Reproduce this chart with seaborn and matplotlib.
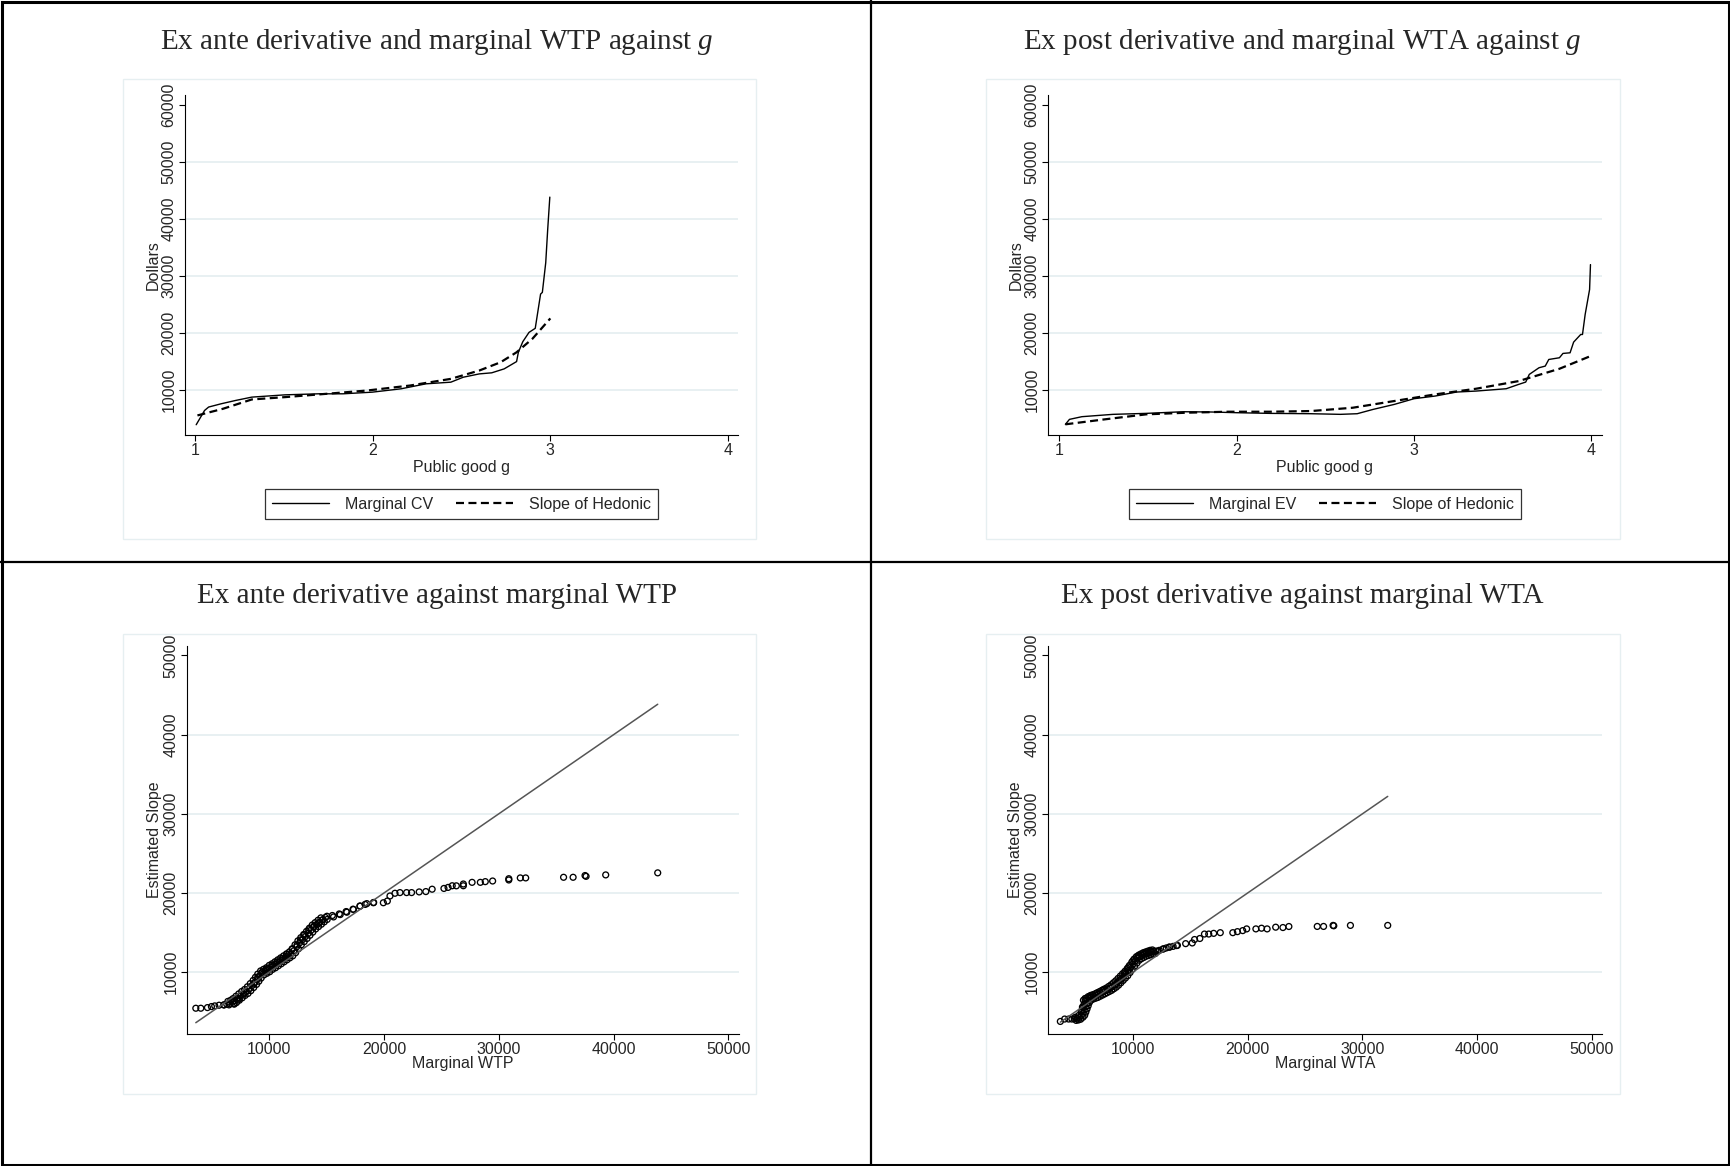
import matplotlib
matplotlib.use('Agg')
import matplotlib.pyplot as plt
from matplotlib.patches import Rectangle
from matplotlib.lines import Line2D
import numpy as np
import pandas as pd
import seaborn as sns

# ── Data ──────────────────────────────────────────────────────────────────
# Top left: ex ante (marginal CV vs slope of hedonic)
cv_g = [1.007, 1.054, 1.077, 1.147, 1.228, 1.32, 1.507, 1.694, 1.833, 1.998,
        2.16, 2.30, 2.44, 2.51, 2.60, 2.67, 2.74, 2.81, 2.82, 2.845, 2.88,
        2.915, 2.945, 2.955, 2.974, 2.985, 2.997]
cv_val = [3900, 6400, 7000, 7570, 8150, 8740, 9140, 9320, 9320, 9610,
          10200, 11070, 11360, 12230, 12810, 13000, 13690, 14970, 16600, 18460, 20090,
          20800, 26800, 27100, 32300, 38100, 43800]
hed_a_g = [1.014, 1.158, 1.32, 1.507, 1.74, 1.97, 2.21, 2.44, 2.60, 2.72, 2.81, 2.90, 3.0]
hed_a_val = [5530, 6700, 8330, 8740, 9320, 9900, 10770, 11940, 13400, 14850, 16600, 19000, 22540]

# Top right: ex post (marginal EV vs slope of hedonic)
ev_g = [1.035, 1.058, 1.128, 1.303, 1.49, 1.70, 1.86, 2.0, 2.19, 2.42, 2.585,
        2.68, 2.77, 2.89, 3.0, 3.12, 3.24, 3.35, 3.52, 3.59, 3.63, 3.65, 3.705,
        3.74, 3.76, 3.82, 3.84, 3.88, 3.90, 3.94, 3.95, 3.965, 3.99, 3.995]
ev_val = [3970, 4840, 5310, 5720, 5890, 6180, 6130, 6010, 5890, 5830, 5720,
          5830, 6590, 7470, 8460, 8930, 9630, 9800, 10210, 10970, 11380, 12720, 13890,
          14180, 15340, 15640, 16400, 16510, 18380, 19720, 19720, 23220, 27600, 31970]
hed_p_g = [1.035, 1.256, 1.49, 1.72, 1.953, 2.19, 2.42, 2.655, 2.888, 3.12, 3.35, 3.59, 3.82, 3.995]
hed_p_val = [3970, 4840, 5720, 6010, 6180, 6180, 6300, 6880, 8050, 9220, 10210, 11550, 13710, 15930]

# Bottom left: estimated slope against marginal WTP (sparse points)
wtp = [3608, 4042, 4620, 4967, 5256, 5631, 6065, 6499, 6932, 7366, 7800, 8233,
       8667, 9014, 9390, 9824, 10258, 10691, 11125, 11558, 11992, 12426, 12715,
       13062, 13437, 13871, 14304, 14680, 15027, 15605, 16184, 16762, 17340,
       17918, 18352, 19074, 19942, 20289, 20520, 20954, 21388, 21966, 22400,
       23064, 23643, 24192,
       25220, 25580, 25940, 26300, 26910, 26910, 27670, 28390, 28820, 29460,
       30870, 30870, 31870, 32340, 35640, 36470, 37510, 37600, 39310, 43840]
slope_a = [5435, 5435, 5517, 5645, 5730, 5816, 5859, 5859, 6030, 6586, 7227, 7868,
           8509, 9363, 10004, 10432, 10859, 11286, 11713, 12269, 12867, 13423, 14064,
           14705, 15346, 15773, 16201, 16628, 17055, 16969, 17268, 17568, 17910,
           18337, 18551, 18764, 18764, 18978, 19619, 19961, 20046, 20046, 20046,
           20130, 20174, 20474,
           20570, 20700, 20910, 20900, 20910, 21130, 21340, 21340, 21430, 21510,
           21640, 21800, 21900, 21900, 21980, 21980, 22200, 22100, 22280, 22540]
# Bottom left: the dense band of observations
wtp_band = [6050, 6300, 6550, 6800, 7000, 7250, 7500, 7750, 8000, 8250, 8500, 8750,
            8950, 9150, 9400, 9650, 9900, 10150, 10400, 10650, 10900, 11150, 11400,
            11650, 11900, 12150, 12400, 12650, 12900, 13150, 13400, 13650, 13900,
            14150, 14400, 14650, 14900, 15500, 16100, 16700, 17300, 17900, 18500, 19100,
            6400, 6650, 6850, 7100, 7350, 7600, 7850, 8100, 8350, 8600, 8800, 9000,
            9250, 9500, 9750, 10000, 10250, 10500, 10750, 11000, 11250, 11500, 11750,
            12000, 12250, 12500, 12750, 13000, 13250, 13500, 13750, 14000, 14250, 14500,
            6950, 7150, 7400, 7650, 7900, 8150, 8400, 8650, 8900, 9100, 9300, 9550,
            9800, 10050, 10300, 10550, 10800, 11050, 11300, 11550, 11800, 12050, 12300,
            12550, 12800, 13050, 13300, 13550, 13800, 14050, 14300, 14550, 14800, 15050]
slope_band = [5850, 5950, 6050, 6200, 6400, 6700, 7000, 7300, 7550, 7900, 8300, 8700,
              9100, 9500, 9900, 10100, 10300, 10600, 10800, 11050, 11300, 11550, 11800,
              12050, 12300, 12700, 13200, 13700, 14100, 14500, 14900, 15300, 15700,
              16000, 16300, 16600, 16900, 17150, 17350, 17650, 17950, 18350, 18650, 18800,
              6300, 6450, 6650, 6950, 7250, 7550, 7800, 8150, 8550, 8950, 9350, 9750,
              10150, 10350, 10550, 10850, 11050, 11300, 11550, 11800, 12050, 12300, 12550,
              12950, 13450, 13950, 14350, 14750, 15150, 15550, 15950, 16250, 16550, 16850,
              5950, 6150, 6450, 6750, 7050, 7300, 7650, 8050, 8450, 8850, 9250, 9650,
              9850, 10050, 10350, 10550, 10800, 11050, 11300, 11550, 11800, 12050, 12450,
              12950, 13450, 13850, 14250, 14650, 15050, 15450, 15750, 16050, 16350, 16650]

# Bottom right: estimated slope against marginal WTA (sparse points)
wta = [3675, 4052, 4681, 4968, 5256, 5485, 5600, 5687, 5830, 6261, 6836, 7411,
       7985, 8473, 8933, 9278, 9623, 9997, 10428, 11002, 11577, 12152, 12669,
       13157, 13876, 14594, 15168, 15369, 15829, 16231, 16605, 17036, 17611,
       18703, 19105, 19565, 19910, 20714, 21203, 21691, 22438, 23070, 23587,
       26060, 26610, 27440, 27500, 28950, 32200]
slope_p = [3767, 4070, 4070, 4287, 4503, 4936, 5586, 6452, 6668, 6885, 7318, 7751,
           7967, 8400, 9050, 9916, 10652, 11431, 11951, 12384, 12643, 12643, 12947,
           13163, 13380, 13596, 13683, 14116, 14246, 14809, 14809, 14896, 14982,
           14982, 15112, 15242, 15458, 15458, 15545, 15458, 15675, 15631, 15761,
           15770, 15770, 15900, 15850, 15900, 15900]
# Bottom right: the dense band of observations
wta_band = [4400, 4900, 5100, 5300, 5500, 5650, 5750, 5850, 5950, 6050, 6200, 6400,
            6600, 6800, 7000, 7200, 7400, 7600, 7800, 8000, 8200, 8400, 8600, 8800,
            9000, 9200, 9400, 9600, 9800, 10000, 10200, 10400, 10600, 10800, 11000,
            11200, 11400, 11600, 11800, 12000, 12300, 12600, 12900, 13200, 13500, 13800,
            5550, 5650, 5750, 5850, 5950, 6100, 6300, 6500, 6700, 6900, 7100, 7300,
            7500, 7700, 7900, 8100, 8300, 8500, 8700, 8900, 9100, 9300, 9500, 9700,
            9900, 10100, 10300, 10500, 10700, 10900, 11100, 11300, 11500, 11700,
            5050, 5250, 5450, 5650, 5800, 5900, 6000, 6100, 6200, 6350, 6550, 6750,
            6950, 7150, 7350, 7550, 7750, 7950, 8150, 8350, 8550, 8750, 8950, 9150,
            9350, 9550, 9750, 9950, 10150, 10350, 10550, 10750, 10950, 11150, 11350,
            11550, 11750, 11950]
slope_p_band = [4069, 4100, 4150, 4250, 4500, 4800, 5200, 5600, 6000, 6400, 6700, 6850,
                6950, 7050, 7200, 7350, 7500, 7650, 7800, 7950, 8150, 8350, 8600, 8900,
                9200, 9500, 9800, 10200, 10600, 11000, 11400, 11750, 11950, 12100, 12250,
                12350, 12450, 12550, 12600, 12650, 12750, 12900, 13050, 13150, 13250, 13350,
                5150, 5550, 5950, 6350, 6700, 6900, 7050, 7150, 7250, 7400, 7550, 7700,
                7850, 8000, 8200, 8400, 8650, 8900, 9200, 9500, 9800, 10100, 10450, 10850,
                11250, 11650, 11950, 12150, 12300, 12450, 12550, 12650, 12750, 12800,
                3900, 3950, 4050, 4300, 4550, 4950, 5350, 5750, 6150, 6450, 6600, 6700,
                6800, 6950, 7100, 7250, 7400, 7550, 7700, 7900, 8100, 8350, 8650, 8950,
                9250, 9550, 9950, 10350, 10750, 11150, 11500, 11700, 11850, 12000, 12100,
                12200, 12300, 12350]

TITLES = ['Ex ante derivative and marginal WTP against $g$',
          'Ex post derivative and marginal WTA against $g$',
          'Ex ante derivative against marginal WTP',
          'Ex post derivative against marginal WTA']
G_TICKS = [1, 2, 3, 4]
TOP_YTICKS = [10000, 20000, 30000, 40000, 50000, 60000]
BOT_TICKS = [10000, 20000, 30000, 40000, 50000]

# ── Style ──────────────────────────────────────────────────────────────────
sns.set_style('white')
plt.rcParams['font.family'] = ['Liberation Sans', 'DejaVu Sans']
plt.rcParams['mathtext.fontset'] = 'custom'
plt.rcParams['mathtext.rm'] = 'Liberation Serif'
plt.rcParams['mathtext.it'] = 'Liberation Serif:italic'

GRID = '#E6EFF1'
W, H = 1730, 1166
fig = plt.figure(figsize=(W / 100, H / 100), dpi=100)
fig.patch.set_facecolor('white')


def px_axes(left, top, right, bottom):
    return fig.add_axes([left / W, 1 - bottom / H, (right - left) / W, (bottom - top) / H])


def px_rect(left, top, right, bottom, **kw):
    fig.add_artist(Rectangle((left / W, 1 - bottom / H), (right - left) / W,
                             (bottom - top) / H, transform=fig.transFigure,
                             fill=False, **kw))


def style_axes(ax, xticks, yticks, xlim, ylim):
    ax.set_xlim(*xlim)
    ax.set_ylim(*ylim)
    ax.set_xticks(xticks)
    ax.set_xticklabels([str(t) for t in xticks])
    ax.set_yticks(yticks)
    ax.set_yticklabels([str(t) for t in yticks], rotation=90, va='center')
    for t in yticks[:-1]:
        ax.axhline(t, color=GRID, lw=1.3, zorder=0)
    for s in ['top', 'right']:
        ax.spines[s].set_visible(False)
    for s in ['left', 'bottom']:
        ax.spines[s].set_color('black')
        ax.spines[s].set_linewidth(0.8)
    ax.tick_params(axis='both', direction='out', length=4, width=0.8,
                   color='black', labelsize=11.5, pad=2, left=True, bottom=True)
    ax.set_facecolor('white')


# panel frames and plot-region outlines
px_rect(1.5, 1.5, W - 1.5, H - 1.5, edgecolor='black', lw=2.2)
fig.add_artist(Line2D([870.5 / W, 870.5 / W], [0, 1], color='black', lw=1.6,
                      transform=fig.transFigure))
fig.add_artist(Line2D([0, 1], [1 - 561.6 / H, 1 - 561.6 / H], color='black', lw=1.6,
                      transform=fig.transFigure))
for (l, r) in [(122.5, 756), (986, 1620)]:
    for (t, b) in [(79.5, 538.5), (634, 1093.5)]:
        px_rect(l, t, r, b, edgecolor=GRID, lw=1)

for (cx, cy), title in zip([(437, 42), (1302, 42), (437, 596), (1302, 596)], TITLES):
    fig.text(cx / W, 1 - cy / H, title, ha='center', va='center', fontsize=21,
             family='Liberation Serif')

# ── Top panels: lines against g ───────────────────────────────────────────
top_specs = [
    ((185, 95, 738, 435), (0.944, 4.056), cv_g, cv_val, hed_a_g, hed_a_val, 'Marginal CV'),
    ((1048, 95, 1602, 435), (0.937, 4.06), ev_g, ev_val, hed_p_g, hed_p_val, 'Marginal EV'),
]
for box, xlim, mg, mv, hg, hv, lab in top_specs:
    ax = px_axes(*box)
    sns.lineplot(x=mg, y=mv, ax=ax, color='black', lw=1.0, label=lab, estimator=None)
    sns.lineplot(x=hg, y=hv, ax=ax, color='black', lw=1.6, label='Slope of Hedonic',
                 estimator=None, dashes=False, linestyle=(0, (3.6, 2.0)))
    style_axes(ax, G_TICKS, TOP_YTICKS, xlim, (2100, 61700))
    ax.set_xlabel('Public good g', fontsize=11.5, labelpad=1)
    ax.set_ylabel('Dollars', fontsize=11.5, labelpad=1)
    cx = (box[0] + box[2]) / 2
    leg = ax.legend(loc='center', bbox_to_anchor=(cx / W, 1 - 504 / H),
                    bbox_transform=fig.transFigure, ncol=2, fontsize=11.5,
                    frameon=True, fancybox=False, edgecolor='black',
                    handlelength=3.6, columnspacing=1.4, borderpad=0.45,
                    handletextpad=1.0, borderaxespad=0)
    leg.get_frame().set_linewidth(0.9)

# ── Bottom panels: scatter with 45-degree line ────────────────────────────
bot_specs = [
    ((187, 646, 739, 1034), (2840, 50920), wtp + wtp_band, slope_a + slope_band, 'Marginal WTP'),
    ((1048, 646, 1602, 1034), (2600, 50870), wta + wta_band, slope_p + slope_p_band, 'Marginal WTA'),
]
for box, xlim, xs, ys, xlab in bot_specs:
    ax = px_axes(*box)
    df = pd.DataFrame({'x': xs, 'y': ys})
    sns.scatterplot(data=df, x='x', y='y', ax=ax, marker='o', s=18,
                    color='black', linewidth=0.95, zorder=3)
    coll = ax.collections[-1]
    coll.set_facecolor('none')
    coll.set_edgecolor('black')
    lo, hi = min(xs), max(xs)
    sns.lineplot(x=[lo, hi], y=[lo, hi], ax=ax, color='#555555', lw=1.1, zorder=4)
    style_axes(ax, BOT_TICKS, BOT_TICKS, xlim, (2180, 51200))
    ax.set_xlabel(xlab, fontsize=11.5, labelpad=-1)
    ax.set_ylabel('Estimated Slope', fontsize=11.5, labelpad=1)

fig.savefig('out.png', dpi=100)
